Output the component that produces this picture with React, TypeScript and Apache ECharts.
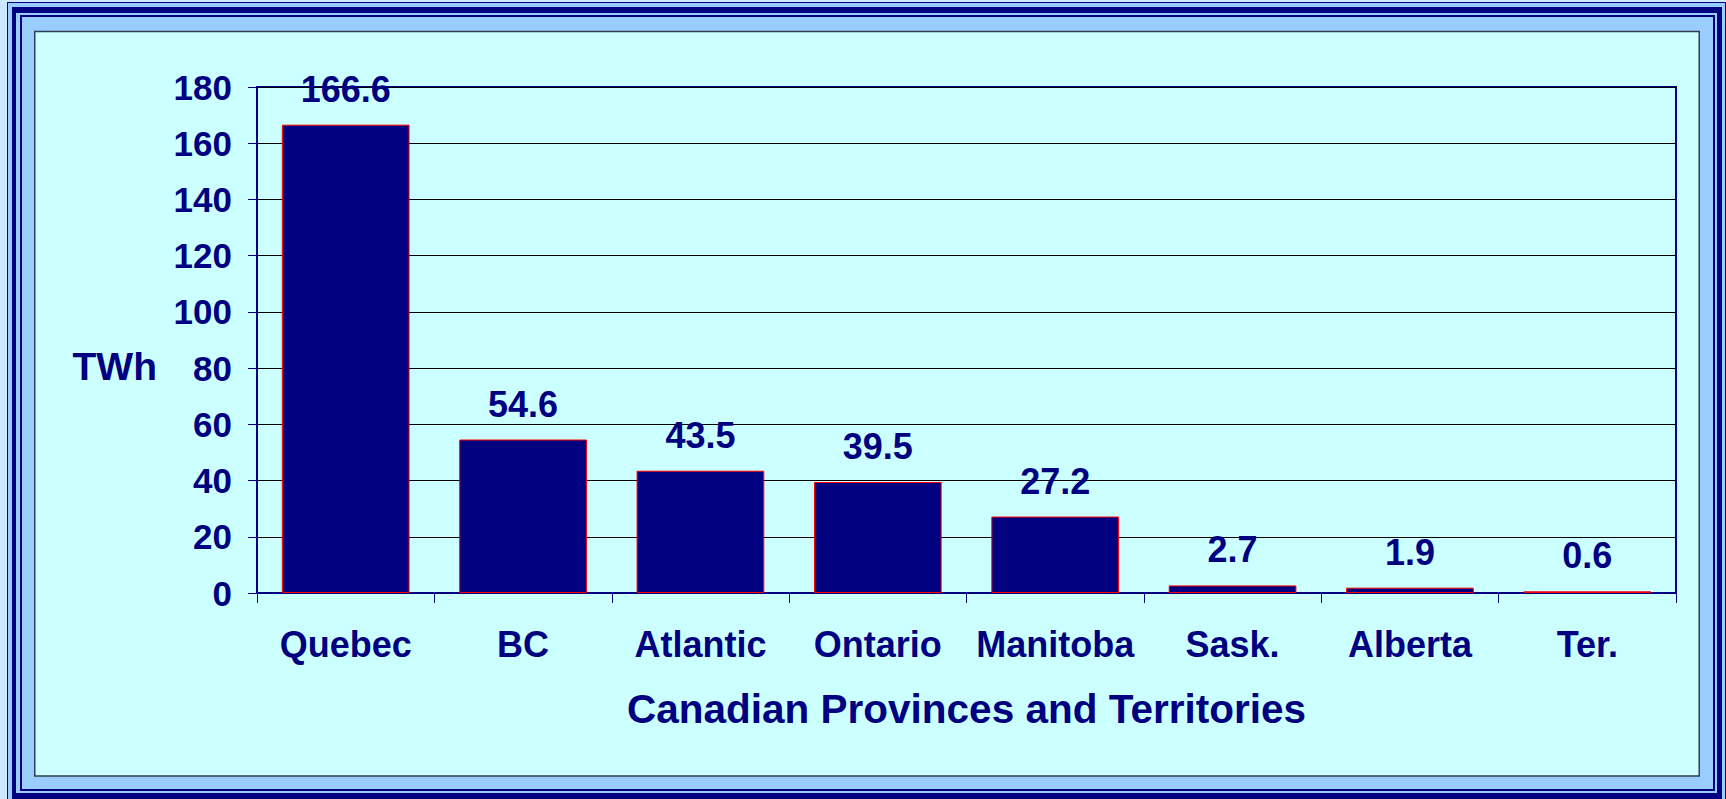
import React, { useEffect, useRef } from "react";
import * as echarts from "echarts";

const categories = ["Quebec", "BC", "Atlantic", "Ontario", "Manitoba", "Sask.", "Alberta", "Ter."];
const values = [166.6, 54.6, 43.5, 39.5, 27.2, 2.7, 1.9, 0.6];
const yTicks = { min: 0, max: 180, interval: 20 };
const yTitle = "TWh";
const xTitle = "Canadian Provinces and Territories";

const NAVY = "#000080";
const LIGHT = "#99CCFF";
const PALE = "#CCE8FF";
const CYAN = "#CCFFFF";
const FONT = "'Liberation Sans', Arial, sans-serif";

export default function App() {
  const ref = useRef<HTMLDivElement>(null);
  useEffect(() => {
    if (!ref.current) return;
    const chart = echarts.init(ref.current, undefined, { renderer: "svg" });
    const rect = (x: number, y: number, w: number, h: number, fill: string, stroke?: string, lw?: number) => ({
      type: "rect",
      z: -10,
      silent: true,
      shape: { x, y, width: w, height: h },
      style: stroke ? { fill, stroke, lineWidth: lw } : { fill },
    });
    chart.setOption({
      animation: false,
      backgroundColor: PALE,
      graphic: [
        rect(7, 2, 1726, 800, NAVY),
        rect(8, 3, 1717, 800, LIGHT),
        rect(12, 7, 1710, 800, NAVY),
        rect(16, 13, 1701, 780, LIGHT),
        rect(20, 15, 1695, 776, NAVY),
        rect(22, 17, 1691, 772, LIGHT),
        rect(34.75, 31.5, 1664.5, 744.5, CYAN, "#2F3F4F", 1.5),
        {
          type: "text",
          z: 10,
          x: 157,
          y: 366.5,
          style: {
            text: yTitle,
            fill: NAVY,
            font: `bold 39px ${FONT}`,
            align: "right",
            verticalAlign: "middle",
          },
        },
      ],
      grid: {
        left: 257,
        top: 87,
        right: 50,
        bottom: 206,
        show: true,
        backgroundColor: CYAN,
        borderColor: NAVY,
        borderWidth: 2,
      },
      xAxis: {
        type: "category",
        data: categories,
        name: xTitle,
        nameLocation: "middle",
        nameGap: 96,
        nameTextStyle: { color: NAVY, fontFamily: FONT, fontWeight: "bold", fontSize: 40.5, lineHeight: 40.5 },
        axisLine: { lineStyle: { color: NAVY, width: 2 } },
        axisTick: { show: true, length: 10, lineStyle: { color: NAVY, width: 1 }, alignWithLabel: false },
        axisLabel: {
          color: NAVY,
          fontFamily: FONT,
          fontWeight: "bold",
          fontSize: 36,
          lineHeight: 36,
          margin: 33,
          interval: 0,
        },
        splitLine: { show: false },
      },
      yAxis: {
        type: "value",
        min: yTicks.min,
        max: yTicks.max,
        interval: yTicks.interval,
        axisLine: { show: true, lineStyle: { color: NAVY, width: 2 } },
        axisTick: { show: true, length: 9, lineStyle: { color: NAVY, width: 1 } },
        axisLabel: {
          color: NAVY,
          fontFamily: FONT,
          fontWeight: "bold",
          fontSize: 35,
          margin: 25,
        },
        splitLine: { show: true, lineStyle: { color: "#000000", width: 1 } },
      },
      series: [
        {
          type: "bar",
          data: values,
          barCategoryGap: "28%",
          itemStyle: { color: NAVY, borderColor: "#FF0000", borderWidth: 1 },
          label: {
            show: true,
            position: "top",
            distance: 17.5,
            color: NAVY,
            fontFamily: FONT,
            fontWeight: "bold",
            fontSize: 36,
            lineHeight: 36,
          },
        },
      ],
    });
    return () => chart.dispose();
  }, []);
  return (
    <div
      ref={ref}
      style={{ position: "fixed", left: 0, top: 0, width: 1726, height: 799 }}
    />
  );
}
